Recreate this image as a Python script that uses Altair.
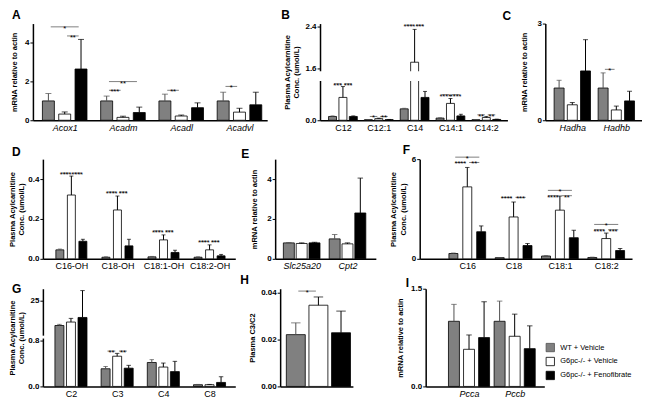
import json
import altair as alt
import pandas as pd

FONT = "Liberation Sans"
SERIES = ["WT + Vehicle", "G6pc-/- + Vehicle", "G6pc-/- + Fenofibrate"]
FILLS = ["#808080", "#ffffff", "#000000"]
ERR_COLORS = ["#505050", "#000000", "#000000"]

# ---------------- A
a_cats = ["Acox1", "Acadm", "Acadl", "Acadvl"]
a_wt = [1.0, 1.0, 1.0, 1.0]
a_ko = [0.32, 0.15, 0.22, 0.42]
a_fen = [2.65, 0.40, 0.65, 0.80]
a_wt_err = [0.38, 0.25, 0.35, 0.45]
a_ko_err = [0.11, 0.06, 0.05, 0.20]
a_fen_err = [1.53, 0.28, 0.25, 0.65]
a_sig = [("Acox1", 0, 2, 4.83, "*"), ("Acox1", 1, 2, 4.36, "**"),
         ("Acadm", 0, 2, 2.0, "**"), ("Acadm", 0, 1, 1.55, "***"),
         ("Acadl", 0, 1, 1.55, "**"), ("Acadvl", 0, 1, 1.75, "*")]

# ---------------- B
b_cats = ["C12", "C12:1", "C14", "C14:1", "C14:2"]
b_wt = [0.07, 0.01, 0.21, 0.04, 0.01]
b_ko = [0.42, 0.03, 1.72, 0.31, 0.05]
b_fen = [0.07, 0.012, 0.42, 0.08, 0.015]
b_wt_err = [0.01, 0.003, 0.01, 0.005, 0.003]
b_ko_err = [0.20, 0.008, 0.62, 0.09, 0.02]
b_fen_err = [0.01, 0.003, 0.11, 0.03, 0.005]
b_sig = [("C12", 0, 1, 0.67, "***"), ("C12", 1, 2, 0.67, "***"),
         ("C12:1", 0, 1, 0.07, "*"), ("C12:1", 1, 2, 0.07, "**"),
         ("C14", 0, 1, 2.42, "****"), ("C14", 1, 2, 2.42, "***"),
         ("C14:1", 0, 1, 0.47, "****"), ("C14:1", 1, 2, 0.47, "****"),
         ("C14:2", 0, 1, 0.10, "**"), ("C14:2", 1, 2, 0.10, "**")]

# ---------------- C
c_cats = ["Hadha", "Hadhb"]
c_wt = [1.0, 1.0]
c_ko = [0.48, 0.32]
c_fen = [1.53, 0.60]
c_wt_err = [0.24, 0.47]
c_ko_err = [0.07, 0.12]
c_fen_err = [0.97, 0.30]
c_sig = [("Hadhb", 0, 1, 1.58, "*")]

# ---------------- D
d_cats = ["C16-OH", "C18-OH", "C18:1-OH", "C18:2-OH"]
d_wt = [0.045, 0.008, 0.010, 0.008]
d_ko = [0.32, 0.245, 0.095, 0.045]
d_fen = [0.088, 0.065, 0.032, 0.015]
d_wt_err = [0.004, 0.002, 0.002, 0.002]
d_ko_err = [0.095, 0.07, 0.025, 0.025]
d_fen_err = [0.010, 0.033, 0.011, 0.007]
d_sig = [("C16-OH", 0, 1, 0.43, "****"), ("C16-OH", 1, 2, 0.43, "****"),
         ("C18-OH", 0, 1, 0.335, "****"), ("C18-OH", 1, 2, 0.335, "***"),
         ("C18:1-OH", 0, 1, 0.14, "****"), ("C18:1-OH", 1, 2, 0.14, "***"),
         ("C18:2-OH", 0, 1, 0.088, "****"), ("C18:2-OH", 1, 2, 0.088, "***")]

# ---------------- E
e_cats = ["Slc25a20", "Cpt2"]
e_wt = [0.80, 1.00]
e_ko = [0.77, 0.75]
e_fen = [0.80, 2.30]
e_wt_err = [0.02, 0.22]
e_ko_err = [0.03, 0.05]
e_fen_err = [0.03, 1.75]
e_sig = []

# ---------------- F
f_cats = ["C16", "C18", "C18:1", "C18:2"]
f_wt = [0.32, 0.07, 0.17, 0.08]
f_ko = [4.33, 2.52, 2.93, 1.22]
f_fen = [1.63, 0.80, 1.27, 0.50]
f_wt_err = [0.03, 0.01, 0.02, 0.02]
f_ko_err = [1.17, 0.90, 0.85, 0.33]
f_fen_err = [0.35, 0.12, 0.45, 0.12]
f_sig = [("C16", 0, 2, 6.12, "*"), ("C16", 0, 1, 5.8, "****"), ("C16", 1, 2, 5.8, "**"),
         ("C18", 0, 1, 3.7, "****"), ("C18", 1, 2, 3.7, "***"),
         ("C18:1", 0, 2, 4.12, "*"), ("C18:1", 0, 1, 3.8, "****"), ("C18:1", 1, 2, 3.8, "**"),
         ("C18:2", 0, 2, 2.07, "*"), ("C18:2", 0, 1, 1.75, "****"), ("C18:2", 1, 2, 1.75, "***")]

# ---------------- G
g_cats = ["C2", "C3", "C4", "C8"]
g_wt = [14.0, 0.31, 0.42, 0.03]
g_ko = [15.5, 0.53, 0.34, 0.03]
g_fen = [17.5, 0.32, 0.26, 0.07]
g_wt_err = [0.5, 0.04, 0.05, 0.005]
g_ko_err = [1.6, 0.05, 0.07, 0.005]
g_fen_err = [11.7, 0.05, 0.18, 0.10]
g_sig = [("C3", 0, 1, 0.62, "**"), ("C3", 1, 2, 0.62, "**")]

# ---------------- H
h_cats = ["C3/C2"]
h_wt = [0.022]
h_ko = [0.0345]
h_fen = [0.0228]
h_wt_err = [0.005]
h_ko_err = [0.0035]
h_fen_err = [0.0092]
h_sig = [("C3/C2", 0, 1, 0.0405, "*")]

# ---------------- I
i_cats = ["Pcca", "Pccb"]
i_wt = [1.0, 1.0]
i_ko = [0.57, 0.77]
i_fen = [0.75, 0.58]
i_wt_err = [0.26, 0.31]
i_ko_err = [0.22, 0.34]
i_fen_err = [0.55, 0.35]
i_sig = []

MRNA = "mRNA relative to actin"
PLASMA = ["Plasma Acylcarnitine", "Conc. (umol/L)"]


def panel(letter, cats, means, errs, sigs, width, height, xdom, off, barw,
          ydomain, yvalues, ytitle, yformat=None, ylabelexpr=None, yfracs=None,
          gap=None, gap_full=True, italic=False, show_xlabels=True,
          letter_dx=-30, letter_y=-12, title_pad=4, legend=None):
    rows = []
    for gi, c in enumerate(cats):
        for si, s in enumerate(SERIES):
            m = means[si][gi]
            rows.append({"cat": c, "series": s, "x": gi + (si - 1) * off,
                         "mean": m, "upper": m + errs[si][gi]})
    df = pd.DataFrame(rows)

    if yfracs is None:
        yscale = alt.Scale(domain=ydomain, nice=False, zero=False)
    else:
        yscale = alt.Scale(domain=ydomain, range=[height * (1 - f) for f in yfracs],
                           nice=False, zero=False)
    xscale = alt.Scale(domain=xdom, nice=False, zero=False)
    xaxis = alt.Axis(title=None, values=list(range(len(cats))),
                     labelExpr=json.dumps(cats) + "[datum.value]",
                     labels=show_xlabels, ticks=False, grid=False, labelFontSize=9,
                     labelFontStyle="italic" if italic else "normal", labelPadding=3,
                     labelFlush=False, labelOverlap=False, labelColor="black",
                     domainColor="black", domainWidth=1.5)
    ykw = dict(title=ytitle, values=yvalues, grid=False, ticks=True, tickSize=3,
               tickColor="black", tickWidth=1, domainColor="black", domainWidth=1.5,
               labelFontSize=8, labelFontWeight="bold", labelColor="black",
               labelPadding=1, labelFlush=False, labelOverlap=False, labelBound=False,
               titleFontSize=7.5, titleFontWeight="bold", titleColor="black",
               titlePadding=title_pad)
    if yformat:
        ykw["format"] = yformat
    if ylabelexpr:
        ykw["labelExpr"] = ylabelexpr
    yaxis = alt.Axis(**ykw)

    base = alt.Chart(df)
    bars = base.mark_bar(orient="vertical", size=barw, stroke="black", strokeWidth=0.8).encode(
        x=alt.X("x:Q", scale=xscale, axis=xaxis),
        y=alt.Y("mean:Q", scale=yscale, axis=yaxis, stack=False),
        fill=alt.Fill("series:N", scale=alt.Scale(domain=SERIES, range=FILLS), legend=legend),
    )
    ecol = alt.Color("series:N", scale=alt.Scale(domain=SERIES, range=ERR_COLORS), legend=None)
    err = base.mark_rule(strokeWidth=1).encode(x="x:Q", y="mean:Q", y2="upper:Q", color=ecol)
    cap = base.mark_tick(orient="horizontal", size=max(4, barw * 0.5), thickness=1).encode(
        x="x:Q", y="upper:Q", color=ecol)
    layers = [bars, err, cap]

    if gap is not None:
        gdf = pd.DataFrame({"lo": [gap[0]], "hi": [gap[1]]})
        layers.append(alt.Chart(gdf).mark_rect(fill="white").encode(
            x=alt.value(-4), x2=alt.value(width if gap_full else 2),
            y="lo:Q", y2="hi:Q"))

    if sigs:
        srows = []
        inset = 0.04
        for c, a, b, lvl, lab in sigs:
            gi = cats.index(c)
            xa = gi + (a - 1) * off + inset
            xb = gi + (b - 1) * off - inset
            srows.append({"x1": xa, "x2": xb, "xm": (xa + xb) / 2, "level": lvl, "label": lab})
        sdf = pd.DataFrame(srows)
        layers.append(alt.Chart(sdf).mark_rule(color="#808080", strokeWidth=1).encode(
            x="x1:Q", x2="x2:Q", y="level:Q"))
        layers.append(alt.Chart(sdf).mark_text(fontSize=7.5, dy=4, baseline="alphabetic",
                                               color="black").encode(
            x="xm:Q", y="level:Q", text="label:N"))

    # panel letter
    layers.append(alt.Chart(pd.DataFrame({"t": [letter]})).mark_text(
        align="left", baseline="top", fontSize=12, fontWeight="bold", color="black").encode(
        x=alt.value(letter_dx), y=alt.value(letter_y), text="t:N"))
    return alt.layer(*layers).properties(width=width, height=height)


def spacer(w, h, marks=()):
    """Invisible cell; optional invisible anchor points (x, y) fix the row's extent."""
    d = pd.DataFrame({"v": [0]})
    layers = [alt.Chart(d).mark_point(opacity=0, size=1).encode(
        x=alt.value(0), y=alt.value(0))]
    for (px, py) in marks:
        layers.append(alt.Chart(d).mark_point(opacity=0, size=1).encode(
            x=alt.value(px), y=alt.value(py)))
    return alt.layer(*layers).properties(width=w, height=h)


H1, H2, H3 = 97, 100, 98

A = panel("A", a_cats, [a_wt, a_ko, a_fen], [a_wt_err, a_ko_err, a_fen_err], a_sig,
          235, H1, [-0.46, 3.39], 0.28, 12, [0, 5], [0, 1, 2, 3, 4, 5], MRNA,
          yformat="d", italic=True, letter_dx=-21, letter_y=-14, title_pad=6)
B = panel("B", b_cats, [b_wt, b_ko, b_fen], [b_wt_err, b_ko_err, b_fen_err], b_sig,
          188, H1, [-0.5, 4.45], 0.29, 8, [0, 0.72, 1.55, 2.45],
          [0, 0.2, 0.4, 0.6, 1.6, 1.8, 2.0, 2.2, 2.4], PLASMA, yformat=".1f",
          yfracs=[0, 0.405, 0.507, 1.0], gap=[0.73, 1.54], letter_dx=-39, letter_y=-14)
C = panel("C", c_cats, [c_wt, c_ko, c_fen], [c_wt_err, c_ko_err, c_fen_err], c_sig,
          97, H1, [-0.5, 1.47], 0.30, 10, [0, 3], [0, 1, 2, 3], MRNA, yformat="d",
          italic=True, letter_dx=-43, letter_y=-13, title_pad=8)
D = panel("D", d_cats, [d_wt, d_ko, d_fen], [d_wt_err, d_ko_err, d_fen_err], d_sig,
          193, H2, [-0.51, 3.45], 0.25, 8, [0, 0.5], [0, 0.1, 0.2, 0.3, 0.4, 0.5],
          PLASMA, yformat=".1f", letter_dx=-31, letter_y=-12, title_pad=2)
E = panel("E", e_cats, [e_wt, e_ko, e_fen], [e_wt_err, e_ko_err, e_fen_err], e_sig,
          101, H2, [-0.47, 1.51], 0.28, 11, [0, 5], [0, 1, 2, 3, 4, 5], MRNA, yformat="d",
          italic=True, letter_dx=-34, letter_y=-10, title_pad=8)
F = panel("F", f_cats, [f_wt, f_ko, f_fen], [f_wt_err, f_ko_err, f_fen_err], f_sig,
          213, H2, [-0.92, 3.45], 0.30, 9, [0, 6], [0, 2, 4, 6], PLASMA, yformat="d",
          letter_dx=-17, letter_y=-14)
G = panel("G", g_cats, [g_wt, g_ko, g_fen], [g_wt_err, g_ko_err, g_fen_err], g_sig,
          193, H3, [-0.5, 3.45], 0.25, 9, [0, 0.84, 9.6, 30],
          [0, 0.2, 0.4, 0.6, 0.8, 10, 15, 20, 25, 30], PLASMA,
          ylabelexpr="datum.value >= 10 ? format(datum.value, 'd') : format(datum.value, '.1f')",
          yfracs=[0, 0.49, 0.52, 1.0], gap=[0.86, 9.5], gap_full=False,
          letter_dx=-31, letter_y=-5, title_pad=2)
Hp = panel("H", h_cats, [h_wt, h_ko, h_fen], [h_wt_err, h_ko_err, h_fen_err], h_sig,
           73, H3, [-0.53, 0.47], 0.36, 19, [0, 0.0415], [0, 0.01, 0.02, 0.03, 0.04],
           "Plasma C3/C2", yformat=".2f", show_xlabels=False, letter_dx=-40, letter_y=-14)
legend_i = alt.Legend(title=None, orient="none", legendX=120, legendY=54,
                      symbolType="square", symbolSize=70, symbolStrokeColor="black",
                      symbolStrokeWidth=0.8, labelFontSize=7.5, labelColor="black",
                      rowPadding=2, labelOffset=5)
I = panel("I", i_cats, [i_wt, i_ko, i_fen], [i_wt_err, i_ko_err, i_fen_err], i_sig,
          119, H3, [-0.84, 1.54], 0.33, 11, [0, 1.5], [0, 0.5, 1.0, 1.5], MRNA,
          yformat=".1f", italic=True, letter_dx=-20, letter_y=-11, title_pad=6,
          legend=legend_i)


def row(cells):
    return alt.hconcat(*cells, spacing=0, bounds="flush").resolve_scale(
        fill="independent", color="independent")


LEFT = -23
row1 = row([spacer(1, H1, [(LEFT, H1 / 2), (0, -13), (0, H1 + 15)]), A, spacer(53, H1), B,
            spacer(38, H1), C])
row2 = row([spacer(11, H2, [(LEFT, H2 / 2), (0, -20.5), (0, H2 + 12.5)]), D,
            spacer(40, H2), E, spacer(44, H2), F])
row3 = row([spacer(11, H3, [(LEFT, H3 / 2), (0, -14)]), G, spacer(45, H3), Hp,
            spacer(73, H3), I])

chart = alt.vconcat(row1, row2, row3, spacing=2).resolve_scale(
    fill="independent", color="independent").properties(padding=0).configure(
    font=FONT).configure_view(stroke=None)

chart.save("out.html", embed_options={"renderer": "svg", "actions": False})
